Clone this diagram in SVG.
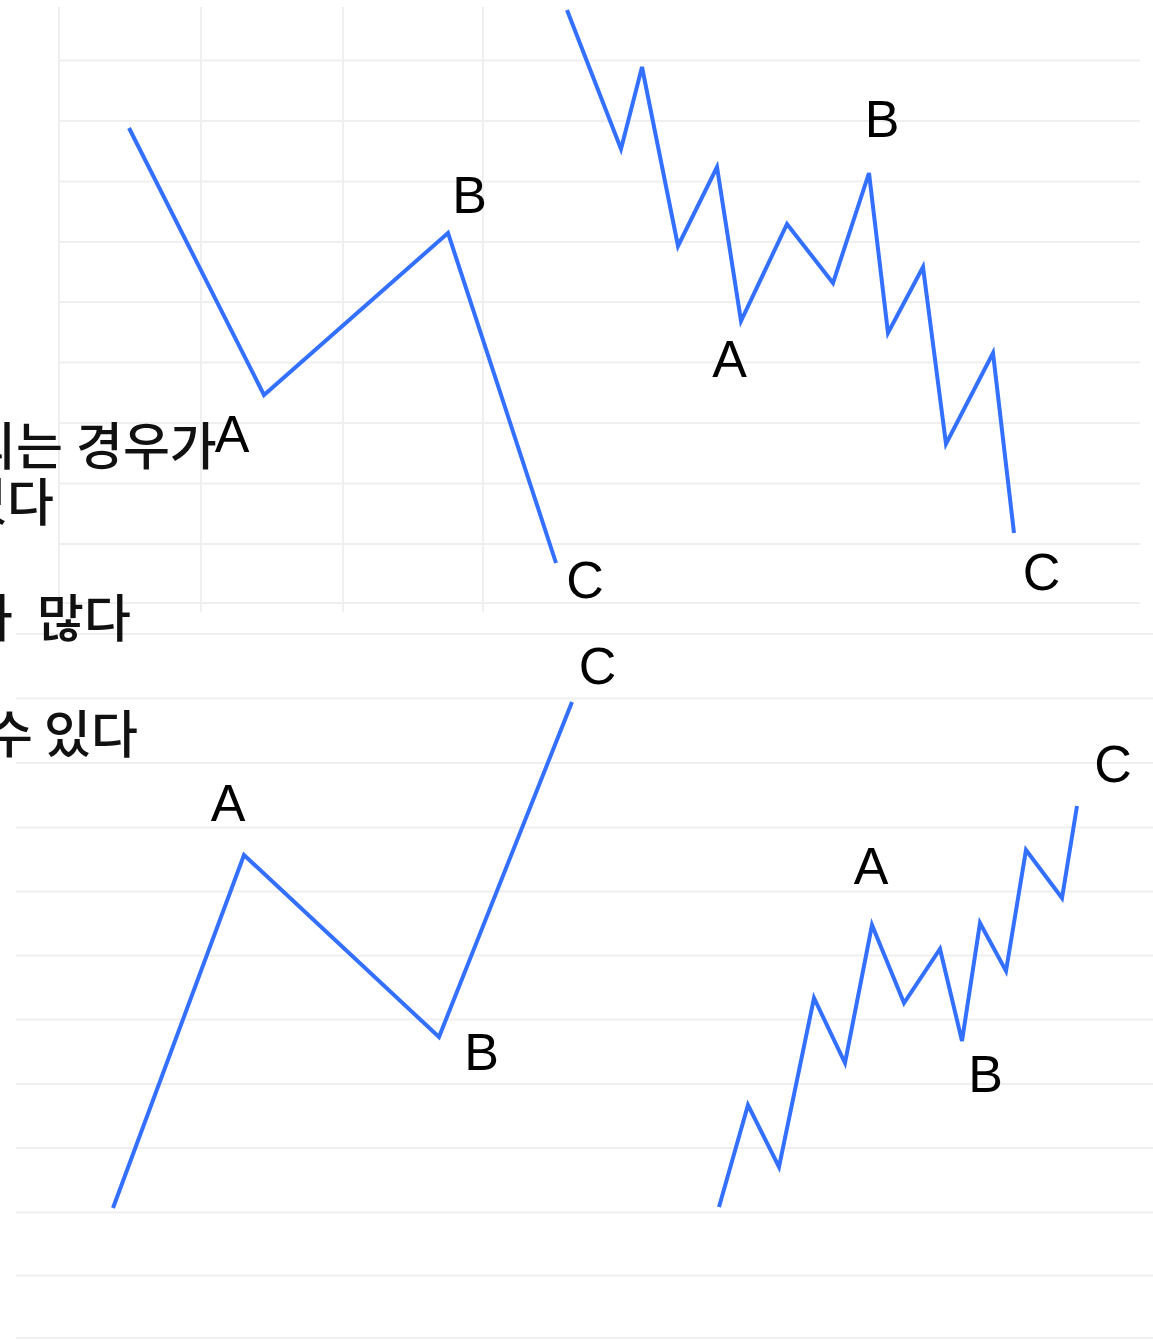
<svg xmlns="http://www.w3.org/2000/svg" width="1153" height="1340" viewBox="0 0 1153 1340">
<style>
.grid line{stroke:#efefef;stroke-width:2}
.wave{fill:none;stroke:#3370ff;stroke-width:4;stroke-linejoin:miter;stroke-linecap:butt}
.lbl{font-family:"Liberation Sans",Arial,sans-serif;font-size:52px;fill:#000;text-anchor:middle}
.kr{font-family:"Noto Sans CJK KR","Noto Sans",sans-serif;font-size:51px;font-weight:500;fill:#111}
</style>
<rect width="1153" height="1340" fill="#fff"/>
<g id="grid-top" class="grid">
<line x1="59" y1="60.5" x2="1140" y2="60.5"/>
<line x1="59" y1="121" x2="1140" y2="121"/>
<line x1="59" y1="181.5" x2="1140" y2="181.5"/>
<line x1="59" y1="242" x2="1140" y2="242"/>
<line x1="59" y1="302" x2="1140" y2="302"/>
<line x1="59" y1="362.5" x2="1140" y2="362.5"/>
<line x1="59" y1="423" x2="1140" y2="423"/>
<line x1="59" y1="483.5" x2="1140" y2="483.5"/>
<line x1="59" y1="544" x2="1140" y2="544"/>
<line x1="59" y1="603" x2="1140" y2="603"/>
<line x1="59" y1="7" x2="59" y2="612"/>
<line x1="201" y1="7" x2="201" y2="612"/>
<line x1="343" y1="7" x2="343" y2="612"/>
<line x1="483" y1="7" x2="483" y2="612"/>
</g>
<g id="grid-bottom" class="grid">
<line x1="16" y1="634" x2="1153" y2="634"/>
<line x1="16" y1="698.5" x2="1153" y2="698.5"/>
<line x1="16" y1="763" x2="1153" y2="763"/>
<line x1="16" y1="827.5" x2="1153" y2="827.5"/>
<line x1="16" y1="891.5" x2="1153" y2="891.5"/>
<line x1="16" y1="955.5" x2="1153" y2="955.5"/>
<line x1="16" y1="1019.5" x2="1153" y2="1019.5"/>
<line x1="16" y1="1084" x2="1153" y2="1084"/>
<line x1="16" y1="1148" x2="1153" y2="1148"/>
<line x1="16" y1="1212.5" x2="1153" y2="1212.5"/>
<line x1="16" y1="1275.5" x2="1153" y2="1275.5"/>
<line x1="16" y1="1338" x2="1153" y2="1338"/>
</g>
<g id="connectors">
<polyline class="wave" points="129,128 264,395 448,233 556,563"/>
<polyline class="wave" points="567,10 621,149 642,67 678,246 717,167 741,321 787,224 833,283 869,173 888,333 923,267 946,444 993,353 1014,533"/>
<polyline class="wave" points="113,1208 244,855 439,1037 572,702"/>
<polyline class="wave" points="719,1207 748,1105 779,1167 814,998 845,1063 872,925 904,1003 940,949 962,1041 980,923 1006,971 1026,850 1062,898 1077,806"/>
</g>
<g id="labels-top-left">
<text class="lbl" x="232" y="452">A</text>
<text class="lbl" x="469.5" y="213">B</text>
<text class="lbl" x="585" y="598">C</text>
</g>
<g id="labels-top-right">
<text class="lbl" x="729.5" y="377">A</text>
<text class="lbl" x="882" y="137">B</text>
<text class="lbl" x="1041.5" y="590">C</text>
</g>
<g id="labels-bottom-left">
<text class="lbl" x="228" y="821">A</text>
<text class="lbl" x="481.5" y="1070">B</text>
<text class="lbl" x="597.5" y="684">C</text>
</g>
<g id="labels-bottom-right">
<text class="lbl" x="871" y="884">A</text>
<text class="lbl" x="985.5" y="1092">B</text>
<text class="lbl" x="1113" y="782">C</text>
</g>
<g id="korean-text">
<text class="kr" y="465"><tspan x="-31">되는</tspan><tspan x="76">경우가</tspan></text>
<text class="kr" y="521"><tspan x="-40">있다</tspan></text>
<text class="kr" y="637"><tspan x="-34">가</tspan><tspan x="37">많다</tspan></text>
<text class="kr" y="753"><tspan x="-14">수</tspan><tspan x="44">있다</tspan></text>
</g>
</svg>
